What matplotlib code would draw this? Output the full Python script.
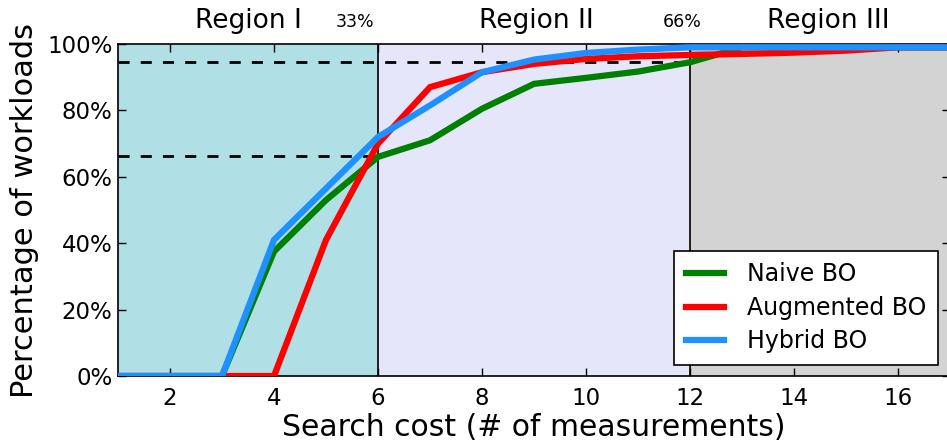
import matplotlib
matplotlib.use("Agg")
import matplotlib.pyplot as plt
from matplotlib.ticker import FuncFormatter

# Search cost (number of measurements)
cost = [1, 2, 3, 4, 5, 6, 7, 8, 9, 10, 11, 12, 13, 14, 15, 16, 17]

# Cumulative share of workloads that found a good configuration (%)
naive_bo = [0, 0, 0, 37.5, 53, 66, 71, 80.5, 88, 89.8, 91.7, 94.5, 99, 99, 99, 99, 99]
augmented_bo = [0, 0, 0, 0, 41, 70, 87, 91.5, 94, 95.5, 96.3, 96.7, 97, 97.4, 98, 99, 99]
hybrid_bo = [0, 0, 0, 41, 56.5, 72, 81.5, 91.5, 95.3, 97.3, 98.3, 99, 99, 99, 99, 99, 99]

series_names = ["Naive BO", "Augmented BO", "Hybrid BO"]
series_colors = ["green", "red", "dodgerblue"]

# Region boundaries along the cost axis and their labels
region_edges = [1, 6, 12, 17]
region_colors = ["powderblue", "lavender", "lightgray"]
region_labels = ["Region I", "Region II", "Region III"]
region_label_x = [3.5, 9.05, 14.65]
split_labels = ["33%", "66%"]
split_label_x = [5.55, 11.85]

# Reference levels (%) marked with dashed lines, and where they end
ref_levels = [94.5, 66.3]
ref_ends = [12, 6]

plt.rcParams["font.family"] = ["DejaVu Sans"]

fig = plt.figure(figsize=(9.47, 4.47), dpi=100)
ax = fig.add_axes([0.1246, 0.1588, 0.8787, 0.7428])

for lo, hi, c in zip(region_edges[:-1], region_edges[1:], region_colors):
    ax.axvspan(lo, hi, color=c, zorder=0, lw=0)
for edge in region_edges[1:-1]:
    ax.axvline(edge, color="black", lw=1.2, zorder=1)

for lvl, end in zip(ref_levels, ref_ends):
    ax.plot([region_edges[0], end], [lvl, lvl], color="black", lw=2,
            dashes=(4, 4), zorder=2)

for ys, name, c in zip([naive_bo, augmented_bo, hybrid_bo], series_names, series_colors):
    ax.plot(cost, ys, color=c, lw=4.5, label=name, zorder=3, solid_joinstyle="miter")

ax.set_xlim(1, 17)
ax.set_ylim(0, 100)
ax.set_xticks([2, 4, 6, 8, 10, 12, 14, 16])
ax.set_yticks([0, 20, 40, 60, 80, 100])
ax.yaxis.set_major_formatter(FuncFormatter(lambda v, p: f"{int(v)}%"))
ax.tick_params(direction="in", top=True, right=True, labelsize=16.5, length=6,
               width=1)
ax.tick_params(axis="y", pad=4)
ax.tick_params(axis="x", pad=8)
for s in ax.spines.values():
    s.set_linewidth(1.2)

ax.set_xlabel("Search cost (# of measurements)", fontsize=21.5, labelpad=2)
ax.set_ylabel("Percentage of workloads", fontsize=22, labelpad=6)

for x, t in zip(region_label_x, region_labels):
    ax.text(x, 107, t, fontsize=19, ha="center", va="center")
for x, t in zip(split_label_x, split_labels):
    ax.text(x, 106.5, t, fontsize=12.5, ha="center", va="center")

leg = ax.legend(loc="lower right", bbox_to_anchor=(0.986, 0.033), borderaxespad=0,
                fontsize=17, handlelength=1.6, handletextpad=1.0, labelspacing=0.4,
                fancybox=False, framealpha=1, borderpad=0.5)
leg.get_frame().set_edgecolor("black")
leg.get_frame().set_linewidth(1.2)

fig.savefig("out.png", dpi=100)
